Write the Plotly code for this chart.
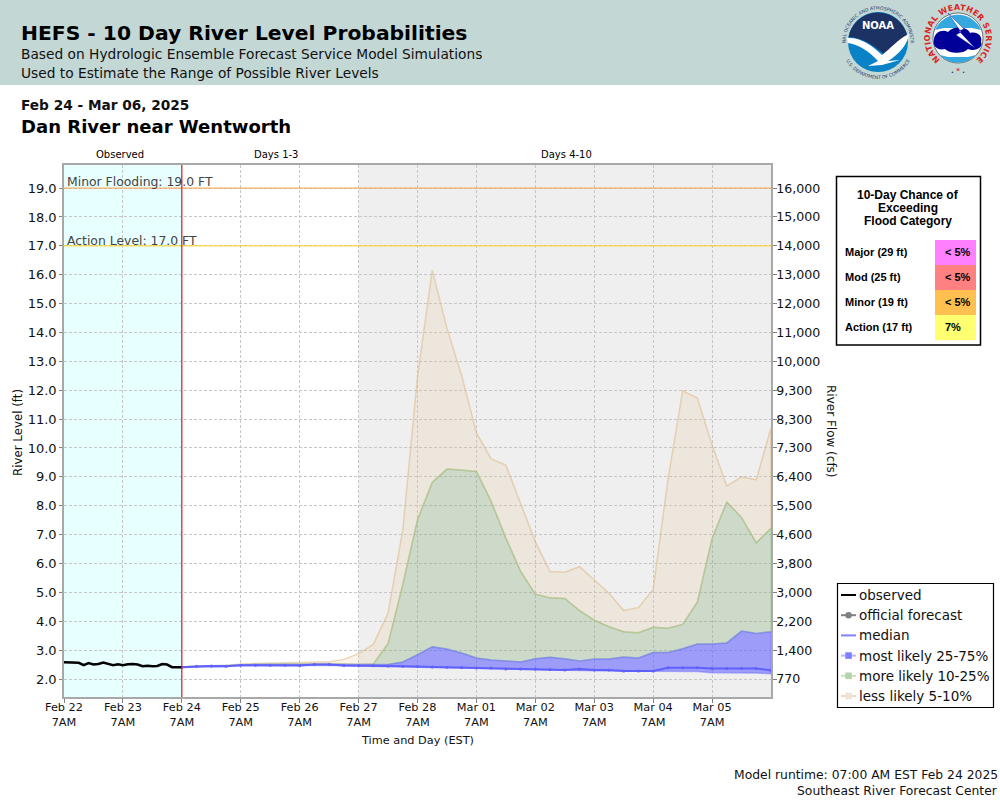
import base64

import pandas as pd
import plotly.graph_objects as go


# observed river level, every 2 hours from Feb 22 7AM
observed_level = [
    2.58, 2.58, 2.58, 2.56, 2.48, 2.55, 2.50, 2.52, 2.57, 2.52, 2.48, 2.51, 2.48,
    2.51, 2.52, 2.50, 2.44, 2.46, 2.44, 2.45, 2.52, 2.50, 2.41, 2.41, 2.41,
]

# forecast percentiles, every 6 hours from Feb 24 7AM
median_level = [
    2.41, 2.44, 2.45, 2.44, 2.48, 2.48, 2.48, 2.48, 2.47, 2.50, 2.50, 2.47, 2.47,
    2.46, 2.45, 2.44, 2.43, 2.42, 2.41, 2.40, 2.38, 2.38, 2.35, 2.35, 2.35, 2.33, 2.31,
    2.35, 2.31, 2.31, 2.28, 2.28, 2.28, 2.39, 2.39, 2.39, 2.36, 2.36, 2.36, 2.36, 2.30,
]
low_25 = [
    2.40, 2.42, 2.43, 2.43, 2.46, 2.46, 2.46, 2.46, 2.46, 2.48, 2.48, 2.46, 2.45,
    2.44, 2.43, 2.42, 2.41, 2.39, 2.37, 2.36, 2.36, 2.35, 2.33, 2.33, 2.33, 2.31, 2.29,
    2.30, 2.29, 2.28, 2.26, 2.26, 2.26, 2.27, 2.26, 2.26, 2.22, 2.21, 2.21, 2.21, 2.18,
]
high_75 = [
    2.42, 2.45, 2.46, 2.46, 2.49, 2.50, 2.50, 2.50, 2.49, 2.51, 2.51, 2.49, 2.49,
    2.50, 2.50, 2.59, 2.84, 3.12, 3.04, 2.90, 2.73, 2.66, 2.62, 2.59, 2.70, 2.75, 2.70,
    2.62, 2.69, 2.69, 2.76, 2.73, 2.92, 2.92, 3.05, 3.21, 3.21, 3.25, 3.66, 3.58, 3.64,
]
high_90 = [
    2.42, 2.45, 2.46, 2.47, 2.50, 2.51, 2.52, 2.52, 2.52, 2.53, 2.54, 2.52, 2.50,
    2.52, 3.22, 5.27, 7.52, 8.81, 9.27, 9.24, 9.19, 8.15, 6.88, 5.73, 4.94, 4.81, 4.79,
    4.37, 4.04, 3.81, 3.64, 3.60, 3.79, 3.76, 3.89, 4.66, 6.87, 8.13, 7.59, 6.72, 7.22,
]
high_95 = [
    2.42, 2.45, 2.46, 2.47, 2.52, 2.54, 2.55, 2.56, 2.56, 2.57, 2.60, 2.68, 2.88,
    3.20, 4.28, 7.16, 12.46, 16.15, 14.15, 12.50, 10.53, 9.62, 9.41, 8.08, 6.75, 5.72, 5.70,
    5.89, 5.43, 4.97, 4.37, 4.47, 5.10, 8.90, 11.98, 11.73, 10.10, 8.68, 9.00, 8.90, 10.70,
]

level_ticks = [float(v) for v in range(2, 20)]
flow_labels = [
    "770", "1,400", "2,200", "3,000", "3,800", "4,600", "5,500", "6,400", "7,300",
    "8,300", "9,300", "10,000", "11,000", "12,000", "13,000", "14,000", "15,000", "16,000",
]

flood_categories = ["Major (29 ft)", "Mod (25 ft)", "Minor (19 ft)", "Action (17 ft)"]
flood_chances = ["< 5%", "< 5%", "< 5%", "7%"]
flood_colors = ["#ff80ff", "#ff8080", "#ffc050", "#ffff70"]

legend_names = [
    "observed", "official forecast", "median",
    "most likely 25-75%", "more likely 10-25%", "less likely 5-10%",
]
legend_line_colors = ["#000000", "#808080", "#8080ff", "#b8b8ff", "#c5e0bc", "#eadccb"]
legend_marker_colors = [None, "#808080", None, "#8080ff", "#b5d3ab", "#eee2d4"]

observed_times = pd.date_range("2025-02-22 07:00", "2025-02-24 07:00", freq="2h")
forecast_times = pd.date_range("2025-02-24 07:00", "2025-03-06 07:00", freq="6h")
day_ticks = pd.date_range("2025-02-22 07:00", "2025-03-05 07:00", freq="D")
day_labels = [f"{d:%b %d}<br>7AM" for d in day_ticks]

font = "DejaVu Sans"
plot_left, plot_right, plot_top, plot_bottom = 64, 771, 165, 697


def px(x):
    return (x - plot_left) / (plot_right - plot_left)


def py(y):
    return (plot_bottom - y) / (plot_bottom - plot_top)


def note(x, y, text, size=12, color="#000000", anchor="left", bold=False, family=font, angle=0):
    return {
        "text": f"<b>{text}</b>" if bold else text,
        "x": px(x),
        "y": py(y),
        "xref": "paper",
        "yref": "paper",
        "xanchor": anchor,
        "yanchor": "middle",
        "showarrow": False,
        "borderpad": 0,
        "borderwidth": 0,
        "textangle": angle,
        "font": {"size": size, "color": color, "family": family},
    }


def box(x0, y0, x1, y1, fill, line=None, width=1, kind="rect"):
    return {
        "type": kind,
        "xref": "paper",
        "yref": "paper",
        "x0": px(x0),
        "x1": px(x1),
        "y0": py(y0),
        "y1": py(y1),
        "fillcolor": fill,
        "line": {"color": line or fill, "width": width if line else 0},
        "layer": "below",
    }


noaa_svg = """<svg xmlns="http://www.w3.org/2000/svg" viewBox="0 0 80 80" width="320" height="320">
<defs><path id="t" d="M40 40 m-32.5 0 a32.5 32.5 0 1 1 65 0"/><path id="b" d="M40 40 m-37 0 a37 37 0 0 0 74 0"/></defs>
<circle cx="40" cy="40" r="30" fill="#0a82c6"/>
<path d="M10.5 35 A30 30 0 0 1 69.5 35 C62 39 55 46 47 53 C40 47 25 35 10.5 35Z" fill="#1d3264"/>
<path d="M9 36 C22 35 34 43 44 53 C52 47 60 37 71 32 C70 41 62 52 50 59 L62 58 L44 63 L30 64 L40 59 C32 50 20 42 10 41Z" fill="#ffffff"/>
<text x="40" y="27" font-family="DejaVu Sans" font-weight="bold" font-size="10" fill="#ffffff" text-anchor="middle">NOAA</text>
<text font-family="DejaVu Sans" font-size="4.6" fill="#24386a"><textPath href="#t" startOffset="50%" text-anchor="middle">NATIONAL OCEANIC AND ATMOSPHERIC ADMINISTRATION</textPath></text>
<text font-family="DejaVu Sans" font-size="4.6" fill="#24386a"><textPath href="#b" startOffset="50%" text-anchor="middle">U.S. DEPARTMENT OF COMMERCE</textPath></text>
</svg>"""

nws_svg = """<svg xmlns="http://www.w3.org/2000/svg" viewBox="0 0 80 80" width="320" height="320">
<defs><path id="t" d="M23.9 62.9 A28 28 0 1 1 56.1 62.9"/></defs>
<circle cx="40" cy="40" r="25" fill="#ffffff" stroke="#222222" stroke-width="0.6"/>
<path d="M17 32 A25 25 0 0 1 63 32 L54 30 L26 30Z" fill="#35a8e0"/>
<path d="M22 57 A25 25 0 0 0 58 57 L50 59 L30 59Z" fill="#35a8e0"/>
<path d="M16 42 C16 34 25 31 30 34 C36 27 50 29 52 35 C59 33 65 38 63 44 C66 49 57 54 50 51 C44 57 31 55 27 51 C20 53 14 48 16 42Z" fill="#000099"/>
<path d="M30 15 L46 31 L41 33 L57 50 L38 37 L43 34 L30 15Z" fill="#ffffff" stroke="#000099" stroke-width="0.4"/>
<text font-family="DejaVu Sans" font-weight="bold" font-size="8" letter-spacing="0.2" fill="#dd2222"><textPath href="#t" startOffset="50%" text-anchor="middle">NATIONAL WEATHER SERVICE</textPath></text>
<text x="40" y="75" font-family="DejaVu Sans" font-weight="bold" font-size="7" fill="#1d3264" text-anchor="middle">. <tspan fill="#dd2222">*</tspan> .</text>
</svg>"""


def svg_source(svg):
    return "data:image/svg+xml;base64," + base64.b64encode(svg.encode()).decode()


def logo(svg, x0, y0, size):
    return {
        "source": svg_source(svg),
        "xref": "paper",
        "yref": "paper",
        "x": px(x0),
        "y": py(y0),
        "sizex": size / (plot_right - plot_left),
        "sizey": size / (plot_bottom - plot_top),
        "xanchor": "left",
        "yanchor": "top",
        "sizing": "stretch",
        "layer": "above",
    }


fig = go.Figure()

# shaded periods sit on the date axis
fig.add_vrect(x0=observed_times[0], x1=observed_times[-1], fillcolor="#e8ffff", line_width=0, layer="below")
fig.add_vrect(x0=forecast_times[12], x1=forecast_times[-1], fillcolor="#efefef", line_width=0, layer="below")

# each band only fills between its own two percentiles
bands = [
    (high_95, high_90, "rgba(229,195,145,0.2)", "rgba(222,184,135,0.55)"),
    (high_90, high_75, "rgba(128,168,111,0.3)", "rgba(150,200,135,0.5)"),
    (high_75, low_25, "rgba(102,102,255,0.6)", "rgba(110,110,255,0.5)"),
]
for upper, lower, fill, line in bands:
    fig.add_trace(
        go.Scatter(
            x=list(forecast_times) + list(forecast_times[::-1]),
            y=upper + lower[::-1],
            mode="lines",
            fill="toself",
            fillcolor=fill,
            line={"color": line, "width": 1.5},
            hoverinfo="skip",
        )
    )

fig.add_trace(
    go.Scatter(
        x=forecast_times,
        y=median_level,
        mode="lines+markers",
        line={"color": "#6060ff", "width": 2},
        marker={"color": "#6060ff", "size": 3},
    )
)
fig.add_trace(
    go.Scatter(
        x=observed_times,
        y=observed_level,
        mode="lines",
        line={"color": "#000000", "width": 2.5},
    )
)

# flow axis carries the same positions as the level axis
fig.add_trace(
    go.Scatter(x=[forecast_times[0]], y=[level_ticks[0]], yaxis="y2", mode="lines", hoverinfo="skip")
)

threshold_lines = [(19.0, "#ff9f40"), (17.0, "#ffd21a")]
for level, color in threshold_lines:
    fig.add_hline(y=level, line={"color": color, "width": 1}, layer="above")
fig.add_vline(x=forecast_times[0], line={"color": "#d82020", "width": 1.2}, layer="above")

annotations = [
    note(21, 33, "HEFS - 10 Day River Level Probabilities", 20.3, bold=True),
    note(21, 54, "Based on Hydrologic Ensemble Forecast Service Model Simulations", 13.75, "#111111"),
    note(21, 73, "Used to Estimate the Range of Possible River Levels", 13.75, "#111111"),
    note(21, 105, "Feb 24 - Mar 06, 2025", 13.7, "#111111", bold=True),
    note(21, 126, "Dan River near Wentworth", 18.05, bold=True),
    note(120, 154, "Observed", 10, anchor="center"),
    note(276, 154, "Days 1-3", 10, anchor="center"),
    note(566, 154, "Days 4-10", 10, anchor="center"),
    note(67, 182, "Minor Flooding: 19.0 FT", 12.4, "#444444"),
    note(67, 240, "Action Level: 17.0 FT", 12.4, "#444444"),
    note(18, 433, "River Level (ft)", 11.8, "#111111", anchor="center", angle=-90),
    note(831, 431, "River Flow (cfs)", 12, "#111111", anchor="center", angle=90),
    note(417, 740, "Time and Day (EST)", 11.3, "#111111", anchor="center"),
    note(998, 775, "Model runtime: 07:00 AM EST Feb 24 2025", 12.35, "#111111", anchor="right"),
    note(998, 791, "Southeast River Forecast Center", 12.35, "#111111", anchor="right"),
    note(908, 195, "10-Day Chance of", 12, anchor="center", bold=True, family="Liberation Sans"),
    note(908, 208, "Exceeding", 12, anchor="center", bold=True, family="Liberation Sans"),
    note(908, 221, "Flood Category", 12, anchor="center", bold=True, family="Liberation Sans"),
]

shapes = [
    box(0, 0, 1000, 85, "#c3d7d5"),
    box(836.5, 176.5, 980.5, 345, "#ffffff", "#000000", 1.5),
    box(837.5, 583.5, 993.5, 707.5, "#ffffff", "#000000", 1.2),
]
for i, (category, chance, color) in enumerate(zip(flood_categories, flood_chances, flood_colors)):
    top = 240 + 25 * i
    shapes.append(box(935, top, 976, top + 25.3, color))
    annotations.append(note(845, top + 12, category, 11, bold=True, family="Liberation Sans"))
    annotations.append(note(945, top + 12, chance, 11, bold=True, family="Liberation Sans"))

# legend is hand built: plotly's own entries leave too wide a swatch column
for i, (name, line_color, marker_color) in enumerate(zip(legend_names, legend_line_colors, legend_marker_colors)):
    row = 595 + 20.2 * i
    shapes.append({
        "type": "line",
        "xref": "paper",
        "yref": "paper",
        "x0": px(841),
        "x1": px(856),
        "y0": py(row),
        "y1": py(row),
        "line": {"color": line_color, "width": 2},
        "layer": "below",
    })
    if marker_color:
        kind = "circle" if name == "official forecast" else "rect"
        shapes.append(box(845.3, row - 3.3, 851.8, row + 3.3, marker_color, kind=kind))
    annotations.append(note(859.3, row, name, 13.5, "#111111"))

fig.update_layout(
    width=1000,
    height=800,
    margin={"l": plot_left, "r": 1000 - plot_right, "t": plot_top, "b": 800 - plot_bottom, "pad": 0, "autoexpand": False},
    paper_bgcolor="#ffffff",
    plot_bgcolor="#ffffff",
    font={"family": font, "size": 13, "color": "#111111"},
    showlegend=False,
    shapes=list(fig.layout.shapes) + shapes,
    annotations=annotations,
    images=[logo(noaa_svg, 838, 2, 80), logo(nws_svg, 918, -2, 80)],
    xaxis={
        "type": "date",
        "range": [forecast_times[-1] - pd.Timedelta(days=12), forecast_times[-1]],
        "tickvals": day_ticks,
        "ticktext": day_labels,
        "tickangle": 0,
        "ticks": "outside",
        "ticklen": 4,
        "tickcolor": "#808080",
        "tickfont": {"size": 11.3},
        "ticklabelstandoff": -5,
        "showgrid": True,
        "gridcolor": "#c6c6c6",
        "griddash": "3px,2px",
        "gridwidth": 1,
        "showline": True,
        "linecolor": "#a8a8a8",
        "linewidth": 1.5,
        "mirror": True,
        "zeroline": False,
    },
    yaxis={
        "range": [1.377, 19.8],
        "tickvals": level_ticks,
        "ticktext": [f"{v:.1f}" for v in level_ticks],
        "ticks": "outside",
        "ticklen": 3,
        "tickcolor": "#808080",
        "tickfont": {"size": 13},
        "showgrid": True,
        "gridcolor": "#c6c6c6",
        "griddash": "3px,2px",
        "gridwidth": 1,
        "showline": True,
        "linecolor": "#a8a8a8",
        "linewidth": 1.5,
        "zeroline": False,
    },
    yaxis2={
        "overlaying": "y",
        "side": "right",
        "range": [1.377, 19.8],
        "tickvals": level_ticks,
        "ticktext": flow_labels,
        "ticks": "outside",
        "ticklen": 4,
        "tickcolor": "#808080",
        "tickfont": {"size": 12.6},
        "ticklabelstandoff": -3,
        "showgrid": False,
        "showline": True,
        "linecolor": "#a8a8a8",
        "linewidth": 1.5,
        "zeroline": False,
    },
)

# page default margin would shift the figure inside the 1000x800 window
fig.write_html(
    "out.html",
    config={"displayModeBar": False},
    post_script="document.body.style.margin = '0';",
)
